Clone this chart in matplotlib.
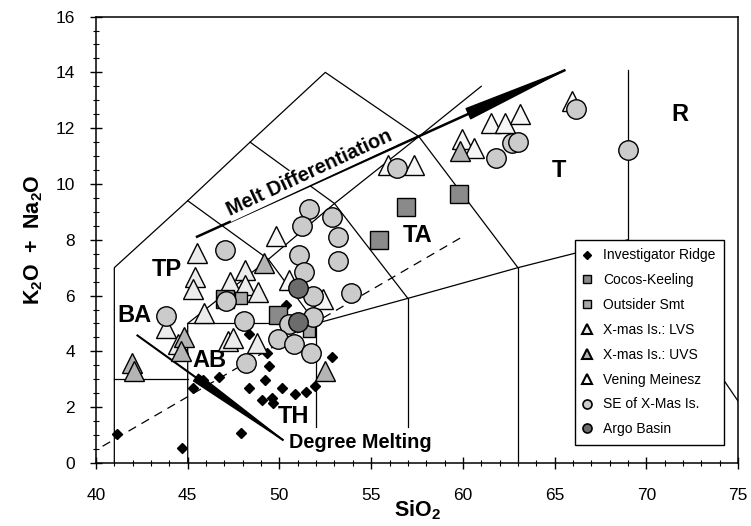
import matplotlib
matplotlib.use("Agg")
import matplotlib.pyplot as plt
from matplotlib.lines import Line2D

plt.rcParams['font.family'] = ['Liberation Sans', 'DejaVu Sans']
plt.rcParams['mathtext.fontset'] = 'custom'
plt.rcParams['mathtext.rm'] = 'Liberation Sans'
plt.rcParams['mathtext.bf'] = 'Liberation Sans:bold'

# --- data (SiO2, K2O+Na2O) ---
investigator_x = [41.17, 44.69, 45.28, 45.84, 46.69, 47.92, 48.32, 49.42, 49.24, 49.05, 49.59, 49.67,
                  50.14, 50.83, 51.47, 51.96, 52.89, 49.34, 48.36, 50.37]
investigator_y = [1.03, 0.53, 2.67, 2.98, 3.08, 1.07, 2.67, 3.47, 2.99, 2.25, 2.34, 2.16,
                  2.69, 2.46, 2.56, 2.75, 3.81, 3.95, 4.61, 5.67]

cocos_x = [59.81, 56.89, 55.40, 49.91, 47.05]
cocos_y = [9.64, 9.19, 8.00, 5.29, 5.87]

outsider_x = [47.91, 51.61]
outsider_y = [5.92, 4.72]

lvs_x = [45.50, 45.40, 45.29, 47.29, 48.13, 48.12, 48.82, 45.91, 43.82, 44.45, 47.17, 47.48, 48.75]
lvs_y = [7.54, 6.68, 6.22, 6.50, 6.91, 6.38, 6.13, 5.36, 4.84, 4.25, 4.37, 4.47, 4.29]

uvs_x = [49.14, 44.81, 44.65, 41.97, 42.07, 59.84, 52.51]
uvs_y = [7.15, 4.50, 4.00, 3.58, 3.28, 11.19, 3.31]

vening_x = [49.81, 50.54, 52.38, 55.90, 57.36, 59.93, 60.59, 61.52, 62.32, 63.13, 65.96]
vening_y = [8.13, 6.57, 5.89, 10.69, 10.67, 11.61, 11.30, 12.18, 12.17, 12.52, 12.97]

se_xmas_x = [47.04, 43.83, 47.10, 48.09, 48.17, 51.62, 51.25, 52.84, 53.20, 53.19, 51.09, 51.33,
             51.84, 53.89, 51.82, 50.51, 49.90, 50.80, 51.73, 56.40, 61.83, 62.66, 63.02, 66.16, 69.0]
se_xmas_y = [7.63, 5.26, 5.82, 5.08, 3.57, 9.10, 8.50, 8.83, 8.10, 7.25, 7.45, 6.84,
             5.97, 6.11, 5.23, 4.99, 4.45, 4.26, 3.95, 10.56, 10.93, 11.46, 11.51, 12.67, 11.21]

argo_x = [51.03, 51.00]
argo_y = [6.28, 5.04]

# TAS field boundaries
boundaries = [
    [(41, 0), (41, 7), (45, 9.4), (48.4, 11.5), (52.5, 14), (57.6, 11.7), (63, 7), (69, 8), (77.3, 0)],
    [(41, 3), (45, 3)],
    [(45, 0), (45, 5), (52, 5), (57, 5.9), (63, 7)],
    [(45, 5), (49.4, 7.3), (52, 5)],
    [(45, 9.4), (49.4, 7.3), (53, 9.3), (57, 5.9)],
    [(48.4, 11.5), (53, 9.3), (57.6, 11.7), (61, 13.5)],
    [(52, 1.3), (52, 5)],
    [(57, 1.3), (57, 5.9)],
    [(63, 0), (63, 7)],
    [(69, 8), (69, 14.1)],
]
divide_x = [40.36, 59.93]
divide_y = [0.6, 8.09]

field_labels = [('TP', 43.85, 6.94), ('BA', 42.09, 5.28), ('AB', 46.16, 3.68), ('TH', 50.75, 1.66),
                ('TA', 57.52, 8.16), ('T', 65.21, 10.47), ('R', 71.8, 12.49)]

fig = plt.figure(figsize=(7.51, 5.26), dpi=100)
ax = fig.add_axes([0.1278, 0.1198, 0.855, 0.8487])
ax.set_xlim(40, 75)
ax.set_ylim(0, 16)

for b in boundaries:
    xs, ys = zip(*b)
    ax.plot(xs, ys, color='black', lw=0.9, zorder=1)
ax.plot(divide_x, divide_y, color='black', lw=0.9, dashes=(7, 5), zorder=1)

# trend arrows
ax.plot([45.51, 65.53], [8.11, 14.07], color='black', lw=1.8, zorder=2)
ax.annotate('', xy=(65.53, 14.07), xytext=(60.3, 12.52),
            arrowprops=dict(arrowstyle='wedge,tail_width=0.8,shrink_factor=0.5',
                            color='black', shrinkA=0, shrinkB=0, mutation_scale=10), zorder=2)
ax.plot([42.26, 50.18], [4.57, 0.83], color='black', lw=1.5, zorder=2)
ax.annotate('', xy=(50.18, 0.83), xytext=(45.45, 3.06),
            arrowprops=dict(arrowstyle='wedge,tail_width=0.6,shrink_factor=0.5',
                            color='black', shrinkA=0, shrinkB=0, mutation_scale=10), zorder=2)

ax.text(51.64, 10.38, 'Melt Differentiation', rotation=25, ha='center', va='center',
        fontsize=14.3, fontweight='bold', rotation_mode='anchor', zorder=2.5,
        bbox=dict(facecolor='white', edgecolor='none', pad=1))
ax.text(50.53, 0.74, 'Degree Melting', ha='left', va='center', fontsize=14.3,
        fontweight='bold', zorder=2.5)

for lab, lx, ly in field_labels:
    ax.text(lx, ly, lab, ha='center', va='center', fontsize=17, fontweight='bold', zorder=2.5)

# data
ax.plot(investigator_x, investigator_y, 'D', ms=5.5, color='black', zorder=3)
ax.plot(lvs_x, lvs_y, '^', ms=14.5, mfc='#ececec', mec='black', mew=1, zorder=4)
ax.plot(vening_x, vening_y, '^', ms=14.5, mfc='#f6f6f6', mec='black', mew=1, zorder=4)
ax.plot(uvs_x, uvs_y, '^', ms=14.5, mfc='#b4b4b4', mec='black', mew=1, zorder=4)
ax.plot(cocos_x, cocos_y, 's', ms=13.5, mfc='#8a8a8a', mec='black', mew=1, zorder=5)
ax.plot(outsider_x, outsider_y, 's', ms=9, mfc='#a8a8a8', mec='black', mew=1, zorder=5)
ax.plot(se_xmas_x, se_xmas_y, 'o', ms=14, mfc='#cbcbcb', mec='black', mew=1, zorder=6)
ax.plot(argo_x, argo_y, 'o', ms=14, mfc='#6c6c6c', mec='black', mew=1, zorder=7)

handles = [
    Line2D([], [], ls='none', marker='D', ms=4.5, color='black'),
    Line2D([], [], ls='none', marker='s', ms=6, mfc='#8a8a8a', mec='black'),
    Line2D([], [], ls='none', marker='s', ms=6, mfc='#a8a8a8', mec='black'),
    Line2D([], [], ls='none', marker='^', ms=7, mfc='#ececec', mec='black', mew=1.5),
    Line2D([], [], ls='none', marker='^', ms=7, mfc='#b4b4b4', mec='black', mew=1.5),
    Line2D([], [], ls='none', marker='^', ms=7, mfc='white', mec='black', mew=1.5),
    Line2D([], [], ls='none', marker='o', ms=6.5, mfc='#cbcbcb', mec='black', mew=1.2),
    Line2D([], [], ls='none', marker='o', ms=6.5, mfc='#6c6c6c', mec='black', mew=1.2),
]
labels = ['Investigator Ridge', 'Cocos-Keeling', 'Outsider Smt', 'X-mas Is.: LVS',
          'X-mas Is.: UVS', 'Vening Meinesz', 'SE of X-Mas Is.', 'Argo Basin']
leg = ax.legend(handles, labels, loc='upper left', bbox_to_anchor=(0.746, 0.50),
                fontsize=10, frameon=True, fancybox=False, edgecolor='black',
                framealpha=1, labelspacing=0.78, handlelength=0.5, handletextpad=0.92,
                borderpad=0.62, borderaxespad=0)
leg.get_frame().set_linewidth(1.0)
leg.set_zorder(10)

ax.set_xticks(range(40, 76, 5))
ax.set_xticks(range(40, 76), minor=True)
ax.set_yticks(range(0, 17, 2))
ax.set_yticks([i * 0.5 for i in range(33)], minor=True)
ax.tick_params(which='major', direction='inout', length=8, width=1, labelsize=12.5,
               top=False, right=False)
ax.tick_params(axis='x', which='major', pad=14)
ax.tick_params(axis='y', which='major', pad=11)
ax.tick_params(which='minor', direction='inout', length=4, width=0.8, top=False, right=False)
for s in ax.spines.values():
    s.set_linewidth(1.1)

ax.set_xlabel(r'$\mathbf{SiO_2}$', fontsize=15.5, labelpad=-3)
ax.set_ylabel(r'$\mathbf{K_2O\ +\ Na_2O}$', fontsize=15.5, labelpad=8)

fig.savefig('out.png', dpi=100)
